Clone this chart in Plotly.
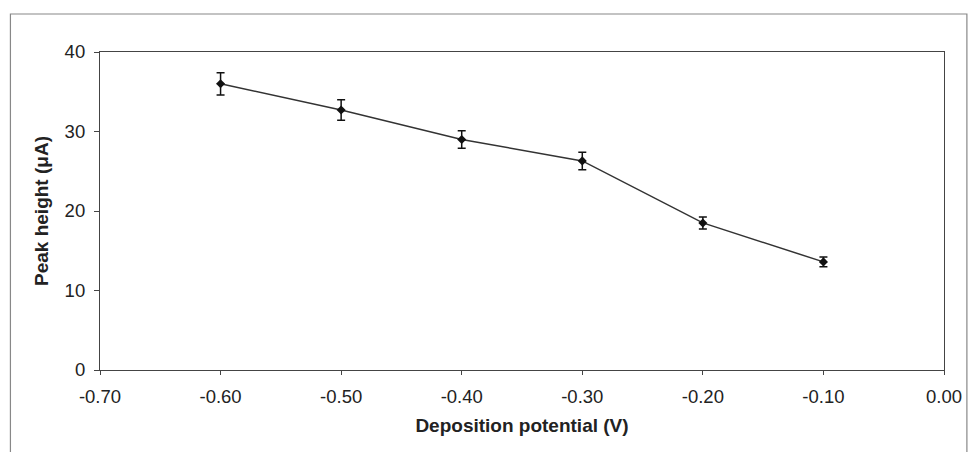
import plotly.graph_objects as go

potential = [-0.60, -0.50, -0.40, -0.30, -0.20, -0.10]
peak_height = [36.0, 32.7, 29.0, 26.3, 18.5, 13.6]
error = [1.4, 1.3, 1.1, 1.1, 0.75, 0.6]
x_ticks = [-0.70, -0.60, -0.50, -0.40, -0.30, -0.20, -0.10, 0.00]
y_ticks = [0, 10, 20, 30, 40]

fig = go.Figure()
fig.add_trace(go.Scatter(
    x=potential, y=peak_height, mode="lines+markers",
    line=dict(color="#333333", width=1.5),
    marker=dict(symbol="diamond", size=7, color="#111111"),
    error_y=dict(type="data", array=error, visible=True, color="#111111", thickness=1.5, width=4),
    showlegend=False,
))

font = dict(family="Liberation Sans, Arial, sans-serif", color="#222222")
fig.update_layout(
    width=974, height=452,
    margin=dict(l=100, r=26, t=52, b=82),
    paper_bgcolor="white", plot_bgcolor="white",
    font=dict(size=18.5, **font),
    xaxis=dict(
        range=[-0.70, 0.00], tickvals=x_ticks, ticktext=[f"{v:.2f}" for v in x_ticks],
        showgrid=False, zeroline=False, showline=True, linecolor="#444444", linewidth=1.2,
        mirror=True, ticks="outside", ticklen=4, tickcolor="#444444", ticklabelstandoff=6,
        title=dict(text="<b>Deposition potential (V)</b>", font=dict(size=19), standoff=12),
    ),
    yaxis=dict(
        range=[0, 40], tickvals=y_ticks,
        showgrid=False, zeroline=False, showline=True, linecolor="#444444", linewidth=1.2,
        mirror=True, ticks="outside", ticklen=5, tickcolor="#444444", ticklabelstandoff=5,
        title=dict(text="<b>Peak height (μA)</b>", font=dict(size=19), standoff=10),
    ),
    shapes=[dict(type="rect", xref="paper", yref="paper",
                 x0=(10 - 100) / 848, x1=(971 - 100) / 848,
                 y0=(370 - 460) / 318, y1=(370 - 14) / 318,
                 line=dict(color="#888888", width=1.2))],
)
fig.write_html("out.html")
